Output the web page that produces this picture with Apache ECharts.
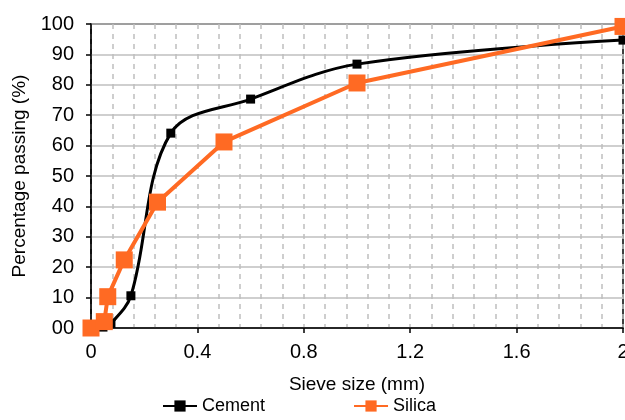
<!DOCTYPE html>
<html><head><meta charset="utf-8">
<script src="https://cdn.jsdelivr.net/npm/echarts@6/dist/echarts.min.js"></script>
<style>html,body{margin:0;padding:0;background:#fff}#c{width:625px;height:420px}</style>
</head><body><div id="c"></div>
<script>
const seriesNames = ['Cement', 'Silica'];
const cementX = [0, 0.045, 0.075, 0.15, 0.3, 0.6, 1.0, 2.0];
const cementY = [0, 0.3, 1.5, 10.6, 64.1, 75.3, 86.8, 94.7];
const silicaX = [0, 0.05, 0.063, 0.125, 0.25, 0.5, 1.0, 2.0];
const silicaY = [0, 2.1, 10.3, 22.4, 41.4, 61.2, 80.6, 99.2];
const xTicks = [0, 0.4, 0.8, 1.2, 1.6, 2];
const yTicks = [0, 10, 20, 30, 40, 50, 60, 70, 80, 90, 100];

const font = 'Liberation Sans, Arial, sans-serif';
const chart = echarts.init(document.getElementById('c'), null, {renderer: 'canvas'});
chart.setOption({
  animation: false,
  grid: {left: 91, right: 2, top: 24, bottom: 92, show: true, borderColor: '#000', borderWidth: 1.5,
    containLabel: false, outerBoundsMode: 'none'},
  xAxis: {
    type: 'value', min: 0, max: 2, interval: 0.4,
    name: 'Sieve size (mm)', nameLocation: 'middle', nameGap: 47,
    nameTextStyle: {fontFamily: font, fontSize: 19, color: '#000'},
    axisLine: {lineStyle: {color: '#000', width: 1.5}},
    axisTick: {show: true, length: 5, lineStyle: {color: '#000', width: 1.5}},
    axisLabel: {fontFamily: font, fontSize: 20, color: '#000', margin: 14, hideOverlap: false,
      showMaxLabel: true, showMinLabel: true,
      formatter: v => xTicks.includes(+v.toFixed(1)) ? String(+v.toFixed(1)) : ''},
    splitLine: {show: true, lineStyle: {color: '#BFBFBF', width: 1.5, type: [5, 5]}},
    minorTick: {show: true, splitNumber: 5, length: 0},
    minorSplitLine: {show: true, lineStyle: {color: '#BFBFBF', width: 1.5, type: [5, 5]}}
  },
  yAxis: {
    type: 'value', min: 0, max: 100, interval: 10,
    name: 'Percentage passing (%)', nameLocation: 'middle', nameGap: 57,
    nameTextStyle: {fontFamily: font, fontSize: 19, color: '#000'},
    axisLine: {show: true, lineStyle: {color: '#000', width: 1.5}},
    axisTick: {show: true, length: 5, lineStyle: {color: '#000', width: 1.5}},
    axisLabel: {fontFamily: font, fontSize: 20, color: '#000', margin: 17,
      formatter: v => v === 0 ? '00' : String(v)},
    splitLine: {show: true, lineStyle: {color: '#BFBFBF', width: 1.5}}
  },
  legend: {
    bottom: 0, left: 157, itemGap: 88, itemWidth: 34, itemHeight: 14,
    textStyle: {fontFamily: font, fontSize: 18, color: '#000'},
    data: seriesNames
  },
  series: [
    {
      name: seriesNames[0], type: 'line', smooth: 0.35,
      data: cementX.map((x, i) => [x, cementY[i]]),
      symbol: 'rect', symbolSize: 9,
      lineStyle: {color: '#000', width: 3},
      itemStyle: {color: '#000'}, z: 2
    },
    {
      name: seriesNames[1], type: 'line', smooth: false,
      data: silicaX.map((x, i) => [x, silicaY[i]]),
      symbol: 'rect', symbolSize: 17,
      lineStyle: {color: '#FF6A23', width: 4},
      itemStyle: {color: '#FF6A23'}, z: 3
    }
  ]
});
</script></body></html>
